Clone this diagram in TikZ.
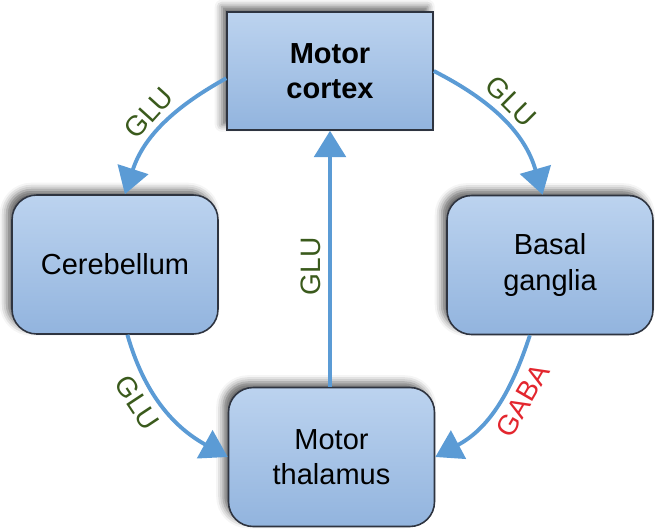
\documentclass[tikz,border=0pt]{standalone}
\usepackage{fontspec}
\setmainfont{Liberation Sans}
\usetikzlibrary{arrows.meta, shadows.blur}

\definecolor{boxtop}{HTML}{BCD3EF}
\definecolor{boxbot}{HTML}{92B4DE}
\definecolor{boxline}{HTML}{2E3440}
\definecolor{linkblue}{HTML}{5B9BD5}
\definecolor{glugreen}{HTML}{3A5A1C}
\definecolor{gabared}{HTML}{E3262E}

\begin{document}
\begin{tikzpicture}[x=0.02cm, y=0.02cm,
  region/.style={draw=boxline, line width=0.9pt, top color=boxtop, bottom color=boxbot,
                 minimum width=4.12cm, minimum height=2.78cm, inner sep=0pt,
                 align=center, font=\fontsize{16.5}{20}\selectfont,
                 rounded corners=14pt,
                 blur shadow={shadow xshift=-3pt, shadow yshift=3pt,
                              shadow blur radius=4pt, shadow opacity=60}},
  cortex/.style={region, rounded corners=0pt, minimum height=2.36cm,
                 font=\fontsize{16.5}{20}\selectfont\bfseries},
  link/.style  ={-{Triangle[length=15pt, width=18pt]}, line width=2.2pt, color=linkblue},
  lbl/.style   ={font=\fontsize{16}{16}\selectfont, inner sep=4pt},
  glu/.style   ={lbl, text=glugreen},
  gaba/.style  ={lbl, text=gabared},
]
\useasboundingbox (0,0) rectangle (655,529);

%% ---- Nodes ----
\node[cortex] (mc) at (330,  458)   {Motor\\cortex};
\node[region] (cb) at (115,  264.5) {Cerebellum};
\node[region] (bg) at (550,  264)   {Basal\\ganglia};
\node[region] (th) at (331.5, 72)   {Motor\\thalamus};

%% ---- Cortex -> Cerebellum / Basal ganglia ----
\draw[link] (mc.184) to[out=209, in=72]
  node[glu, pos=0.5, sloped, above]{GLU} (cb.82);
\draw[link] (mc.east) to[out=-27, in=106]
  node[glu, pos=0.45, sloped, above]{GLU} (bg.96);

%% ---- Loops back into the thalamus ----
\draw[link] (cb.-80) to[out=-74, in=151]
  node[glu, pos=0.38, sloped, below]{GLU} (th.west);
\draw[link] (bg.-106) to[out=-108, in=28]
  node[gaba, pos=0.37, sloped, below]{GABA} (th.east);

%% ---- Thalamus -> Cortex ----
\draw[link] (th.north -| mc) -- node[glu, pos=0.47, sloped, above]{GLU} (mc.south);

\end{tikzpicture}
\end{document}
